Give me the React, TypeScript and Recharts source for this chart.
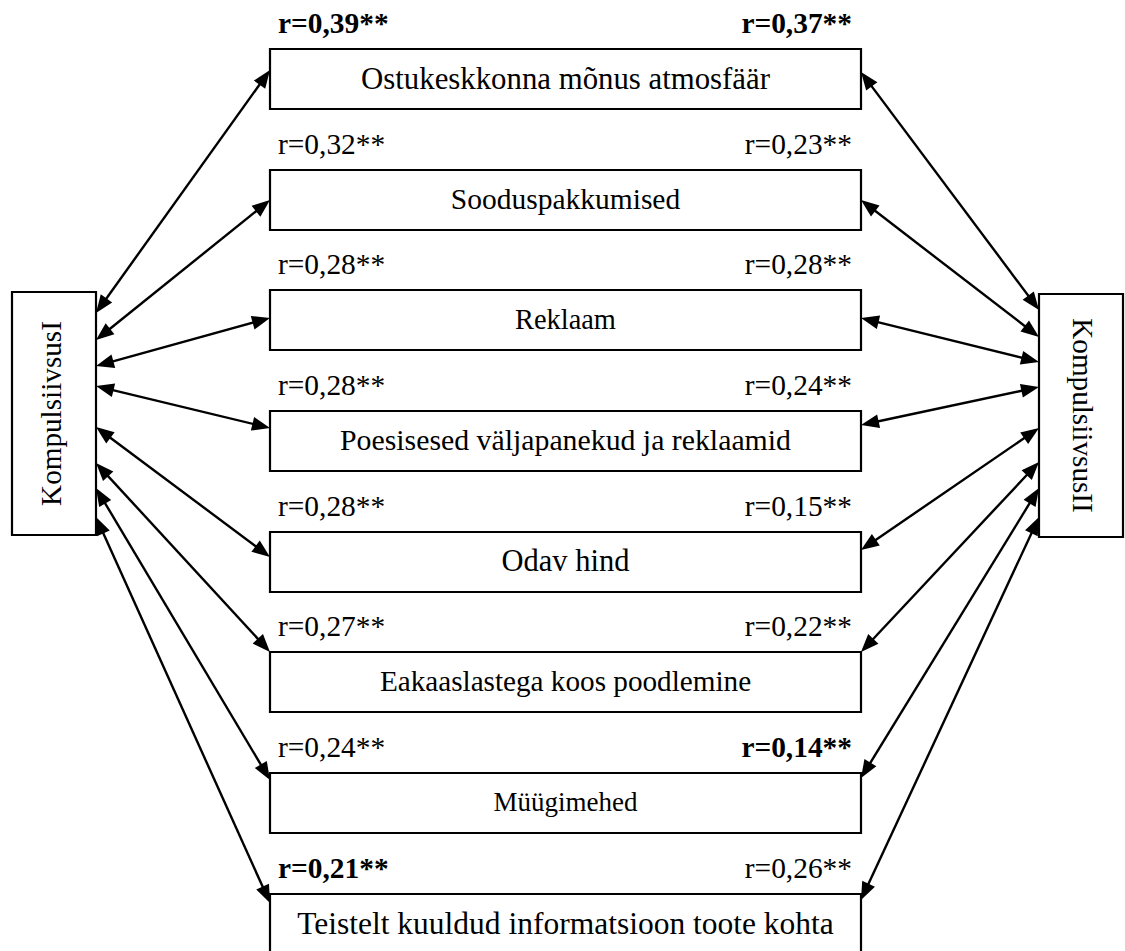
import { ScatterChart, Scatter, XAxis, YAxis, ReferenceArea, ReferenceLine } from 'recharts'

// data
const factors = [
  'Ostukeskkonna mõnus atmosfäär',
  'Sooduspakkumised',
  'Reklaam',
  'Poesisesed väljapanekud ja reklaamid',
  'Odav hind',
  'Eakaaslastega koos poodlemine',
  'Müügimehed',
  'Teistelt kuuldud informatsioon toote kohta',
]
const leftR = ['0,39', '0,32', '0,28', '0,28', '0,28', '0,27', '0,24', '0,21']
const rightR = ['0,37', '0,23', '0,28', '0,24', '0,15', '0,22', '0,14', '0,26']
const leftBold = [true, false, false, false, false, false, false, true]
const rightBold = [true, false, false, false, false, false, true, false]
const leftConstruct = 'KompulsiivsusI'
const rightConstruct = 'KompulsiivsusII'

// layout, in diagram units (1 unit = 1px)
const W = 1125
const H = 951
const boxX1 = 270
const boxX2 = 861
const boxTops = [49, 170, 290, 411, 532, 652, 773, 894]
const boxH = 60
const boxFont = [30.8, 29.5, 28.4, 29.8, 30.5, 29.2, 27, 31.5]
const labelFont = 29.4
const sideFont = 29.2
const leftBox = { x1: 12, x2: 96, y1: 292, y2: 535 }
const rightBox = { x1: 1039, x2: 1123, y1: 294, y2: 537 }
const leftStartY = [313, 340, 366, 386, 427, 463, 488, 517]
const leftEndY = [70, 200, 318, 428, 557, 652, 780, 903]
const rightStartY = [310, 337, 362, 387, 428, 462, 488, 517]
const rightEndY = [72, 200, 318, 425, 550, 652, 778, 900]

const FONT = "'Liberation Serif', 'Times New Roman', serif"

type TextItem = {
  x: number
  y: number
  text: string
  bold?: boolean
  anchor: 'start' | 'middle' | 'end'
  size: number
  rotate?: number
}

const textItems: TextItem[] = []
factors.forEach((name, i) => {
  const top = boxTops[i]
  textItems.push({ x: 278, y: top - 16, text: `r=${leftR[i]}**`, bold: leftBold[i], anchor: 'start', size: labelFont })
  textItems.push({ x: 852, y: top - 16, text: `r=${rightR[i]}**`, bold: rightBold[i], anchor: 'end', size: labelFont })
  textItems.push({
    x: (boxX1 + boxX2) / 2,
    y: top + boxH / 2 + boxFont[i] * 0.31,
    text: name,
    anchor: 'middle',
    size: boxFont[i],
  })
})
textItems.push({ x: (leftBox.x1 + leftBox.x2) / 2 - 2, y: (leftBox.y1 + leftBox.y2) / 2, text: leftConstruct, anchor: 'middle', size: sideFont, rotate: -90 })
textItems.push({ x: (rightBox.x1 + rightBox.x2) / 2 + 1, y: (rightBox.y1 + rightBox.y2) / 2, text: rightConstruct, anchor: 'middle', size: sideFont, rotate: 90 })

function TextMark(props: any) {
  const { cx, cy, payload } = props
  const d = payload as TextItem
  return (
    <text
      x={cx}
      y={cy}
      dy={d.rotate ? d.size * 0.3 : 0}
      textAnchor={d.anchor}
      fontFamily={FONT}
      fontSize={d.size}
      fontWeight={d.bold ? 'bold' : 'normal'}
      fill="#000"
      transform={d.rotate ? `rotate(${d.rotate}, ${cx}, ${cy})` : undefined}
    >
      {d.text}
    </text>
  )
}

function Arrow(props: any) {
  const { x1, y1, x2, y2 } = props
  const dx = x2 - x1
  const dy = y2 - y1
  const len = Math.hypot(dx, dy)
  const ux = dx / len
  const uy = dy / len
  const L = 18
  const hw = 7
  const head = (tx: number, ty: number, ex: number, ey: number) => {
    const bx = tx - ex * L
    const by = ty - ey * L
    return `${tx},${ty} ${bx - ey * hw},${by + ex * hw} ${bx + ey * hw},${by - ex * hw}`
  }
  return (
    <g>
      <line x1={x1 + ux * 12} y1={y1 + uy * 12} x2={x2 - ux * 12} y2={y2 - uy * 12} stroke="#000" strokeWidth={2.4} />
      <polygon points={head(x1, y1, -ux, -uy)} fill="#000" />
      <polygon points={head(x2, y2, ux, uy)} fill="#000" />
    </g>
  )
}

export default function App() {
  return (
    <div style={{ position: 'absolute', left: 0, top: 0, background: '#fff' }}>
      <ScatterChart width={W} height={H} margin={{ top: 0, right: 0, bottom: 0, left: 0 }}>
        <XAxis type="number" dataKey="x" domain={[0, W]} hide />
        <YAxis type="number" dataKey="y" domain={[0, H]} reversed hide />
        {boxTops.map((top, i) => (
          <ReferenceArea
            key={`box-${i}`}
            x1={boxX1}
            x2={boxX2}
            y1={top}
            y2={top + boxH}
            fill="#fff"
            fillOpacity={1}
            stroke="#000"
            strokeWidth={2.2}
            ifOverflow="visible"
          />
        ))}
        <ReferenceArea {...leftBox} fill="#fff" fillOpacity={1} stroke="#000" strokeWidth={2.2} ifOverflow="visible" />
        <ReferenceArea {...rightBox} fill="#fff" fillOpacity={1} stroke="#000" strokeWidth={2.2} ifOverflow="visible" />
        {factors.map((_, i) => (
          <ReferenceLine
            key={`la-${i}`}
            segment={[
              { x: leftBox.x2, y: leftStartY[i] },
              { x: boxX1, y: leftEndY[i] },
            ]}
            shape={<Arrow />}
            ifOverflow="visible"
          />
        ))}
        {factors.map((_, i) => (
          <ReferenceLine
            key={`ra-${i}`}
            segment={[
              { x: rightBox.x1, y: rightStartY[i] },
              { x: boxX2, y: rightEndY[i] },
            ]}
            shape={<Arrow />}
            ifOverflow="visible"
          />
        ))}
        <Scatter data={textItems} shape={(p: any) => <TextMark {...p} />} isAnimationActive={false} />
      </ScatterChart>
    </div>
  )
}
